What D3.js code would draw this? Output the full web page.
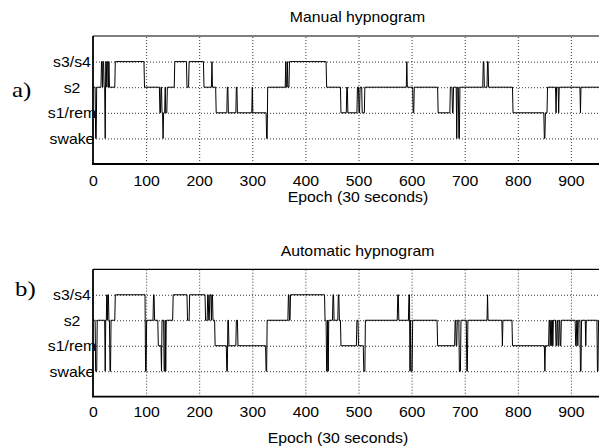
<!DOCTYPE html>
<html>
<head>
<meta charset="utf-8">
<script src="https://cdn.jsdelivr.net/npm/d3@7"></script>
<style>
  body { margin: 0; background: #fff; }
  svg { display: block; }
  text { font-family: "Liberation Sans", Arial, sans-serif; fill: #000; }
</style>
</head>
<body>
<script>
// sleep stages, 1 = swake ... 4 = s3/s4
var stageLabels = ['swake', 's1/rem', 's2', 's3/s4'];
var stageValues = [1, 2, 3, 4];
var epochTicks = [0, 100, 200, 300, 400, 500, 600, 700, 800, 900];
var lastEpoch = 960;

// manual scoring: epoch at which each run starts, and the stage of that run
var manualStart = [0, 5, 7, 16, 18, 19, 21, 23, 24, 26, 27, 29, 30, 31, 42, 97, 126, 128, 130, 132,
                   133, 136, 137, 140, 154, 177, 181, 209, 224, 225, 232, 253, 255, 270, 272, 300, 301, 327, 329, 363,
                   364, 366, 367, 370, 440, 467, 478, 480, 498, 501, 503, 507, 512, 591, 592, 603, 605, 650, 673, 677,
                   679, 685, 686, 689, 691, 735, 737, 743, 745, 791, 850, 852, 856, 872, 873, 877, 878, 918, 919];
var manualStage = [3, 1, 3, 4, 3, 4, 3, 1, 4, 3, 4, 3, 4, 3, 4, 3, 2, 3, 2, 1,
                   2, 3, 2, 3, 4, 3, 4, 3, 4, 3, 2, 3, 2, 3, 2, 3, 2, 1, 3, 4,
                   3, 4, 3, 4, 3, 2, 3, 2, 3, 2, 3, 2, 3, 4, 3, 2, 3, 2, 3, 2,
                   3, 1, 3, 1, 3, 4, 3, 4, 3, 2, 1, 2, 3, 2, 3, 2, 3, 2, 3];

// automatic scoring
var autoStart = [0, 5, 8, 23, 24, 26, 27, 28, 30, 32, 34, 42, 99, 101, 114, 116, 123, 129, 130, 134,
                 136, 137, 138, 151, 178, 182, 212, 216, 218, 220, 223, 224, 226, 230, 252, 254, 256, 270, 273, 326,
                 328, 368, 370, 372, 437, 440, 442, 443, 444, 452, 454, 462, 464, 467, 497, 500, 510, 513, 574, 576,
                 595, 597, 598, 599, 602, 649, 682, 684, 686, 690, 693, 704, 706, 743, 744, 771, 772, 790, 851, 852,
                 859, 861, 862, 864, 865, 866, 867, 872, 874, 876, 878, 880, 882, 909, 911, 913, 914, 918, 920, 928,
                 929, 950, 952];
var autoStage = [3, 1, 3, 1, 3, 4, 3, 4, 3, 1, 3, 4, 1, 3, 4, 3, 2, 1, 3, 1,
                 3, 1, 3, 4, 3, 4, 3, 4, 3, 4, 3, 4, 3, 2, 1, 3, 2, 3, 2, 1,
                 3, 4, 3, 4, 3, 1, 3, 1, 3, 4, 3, 4, 3, 2, 3, 2, 1, 3, 4, 3,
                 4, 1, 3, 1, 3, 2, 3, 2, 3, 1, 3, 1, 3, 4, 3, 2, 3, 2, 1, 2,
                 3, 2, 3, 2, 3, 2, 3, 2, 3, 2, 3, 2, 3, 2, 3, 2, 3, 1, 3, 2,
                 3, 1, 3];

var width = 599, height = 447;
var sx = 1.13; // the original text is a little wider than the font

var svg = d3.select('body').append('svg')
    .attr('width', width)
    .attr('height', height);

// the axes run to 1000 epochs, the picture is cut off on the right
var x = d3.scaleLinear().domain([0, 1000]).range([93, 624]);

var panels = [
    { title: 'Manual hypnogram', tag: 'a)', start: manualStart, stage: manualStage,
      top: 36, bottom: 164, titleY: 22, tickY: 22, labelX: 358, labelY: 202, tagX: 12, tagY: 97 },
    { title: 'Automatic hypnogram', tag: 'b)', start: autoStart, stage: autoStage,
      top: 269.3, bottom: 396.7, titleY: 255.5, tickY: 20.3, labelX: 338, labelY: 443, tagX: 15, tagY: 296 }
];

function runPoints(start, stage) {
    var pts = [];
    for (var i = 0; i < start.length; i++) {
        var end = i < start.length - 1 ? start[i + 1] - 1 : lastEpoch;
        pts.push([start[i], stage[i]]);
        if (end > start[i]) pts.push([end, stage[i]]);
    }
    return pts;
}

function stretchedText(g, px, py, str, size, anchor, family) {
    var t = g.append('text')
        .attr('transform', 'translate(' + px + ',' + py + ') scale(' + sx + ',1)')
        .attr('text-anchor', anchor)
        .style('font-size', size + 'px')
        .text(str);
    if (family) t.style('font-family', family);
    return t;
}

panels.forEach(function (p) {
    var y = d3.scaleLinear().domain([0, 5]).range([p.bottom, p.top]);
    var g = svg.append('g');

    // dotted grid
    g.append('g')
        .attr('transform', 'translate(0,' + p.bottom + ')')
        .call(d3.axisBottom(x).tickValues(epochTicks.slice(1)).tickSize(-(p.bottom - p.top)).tickFormat(''))
        .call(function (a) { a.select('.domain').remove(); });
    g.append('g')
        .attr('transform', 'translate(93,0)')
        .call(d3.axisLeft(y).tickValues(stageValues).tickSize(-(624 - 93)).tickFormat(''))
        .call(function (a) { a.select('.domain').remove(); });
    g.selectAll('.tick line')
        .attr('stroke', '#000')
        .attr('stroke-width', 0.8)
        .attr('stroke-dasharray', '1,2');

    // hypnogram trace
    var line = d3.line()
        .x(function (d) { return x(d[0]); })
        .y(function (d) { return y(d[1]); });
    g.append('path')
        .datum(runPoints(p.start, p.stage))
        .attr('d', line)
        .attr('fill', 'none')
        .attr('stroke', '#000')
        .attr('stroke-width', 1);

    // box
    g.append('line').attr('x1', 93).attr('x2', 624).attr('y1', p.top).attr('y2', p.top)
        .attr('stroke', '#000').attr('stroke-width', 1.2);
    g.append('line').attr('x1', 92).attr('x2', 624).attr('y1', p.bottom).attr('y2', p.bottom)
        .attr('stroke', '#000').attr('stroke-width', 1.8);
    g.append('line').attr('x1', 93).attr('x2', 93).attr('y1', p.top).attr('y2', p.bottom)
        .attr('stroke', '#000').attr('stroke-width', 1.8);

    // x tick labels
    var xa = g.append('g')
        .attr('transform', 'translate(0,' + p.bottom + ')')
        .call(d3.axisBottom(x).tickValues(epochTicks).tickSize(0).tickFormat(d3.format('d')));
    xa.select('.domain').remove();
    xa.selectAll('text')
        .attr('y', p.tickY)
        .attr('dy', null)
        .attr('transform', 'scale(' + sx + ',1)')
        .style('font-size', '14px')
        .style('font-family', null)
        .attr('fill', '#000');

    // stage labels, centred left of the axis
    var ya = g.append('g')
        .attr('transform', 'translate(93,0)')
        .call(d3.axisLeft(y).tickValues(stageValues).tickSize(0)
            .tickFormat(function (d) { return stageLabels[d - 1]; }));
    ya.select('.domain').remove();
    ya.selectAll('text')
        .attr('x', -21 / sx)
        .attr('dy', null)
        .attr('y', 5)
        .attr('text-anchor', 'middle')
        .attr('transform', 'scale(' + sx + ',1)')
        .style('font-size', '14px')
        .style('font-family', null)
        .attr('fill', '#000');

    stretchedText(svg, 357.5, p.titleY, p.title, 14, 'middle');
    stretchedText(svg, p.labelX, p.labelY, 'Epoch (30 seconds)', 14, 'middle');
    stretchedText(svg, p.tagX, p.tagY, p.tag, 22, 'start', '"Liberation Serif", "Times New Roman", serif');
});
</script>
</body>
</html>
